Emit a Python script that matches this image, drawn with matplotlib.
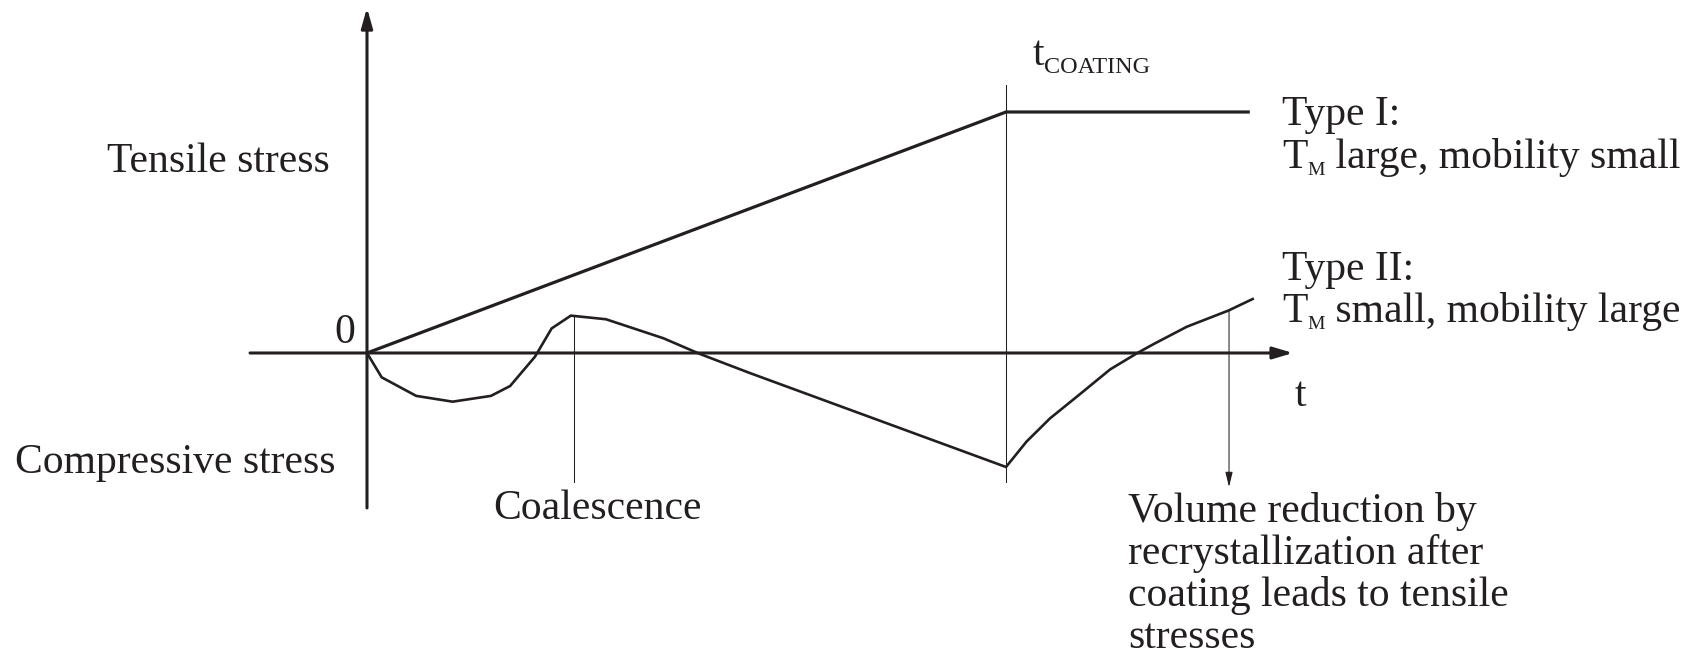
import matplotlib
matplotlib.use("Agg")
import matplotlib.pyplot as plt

# Time axis: t_coating = 10; stress axis: Type I plateau = 10 (arbitrary units)
T_COATING = 10.0
T_COALESCENCE = 3.24

type1_t = [0.0, 10.0, 13.79]
type1_s = [0.0, 10.0, 10.0]

type2_t = [0.0, 0.23, 0.77, 1.34, 1.94, 2.24, 2.63, 2.89, 3.19, 3.74, 4.64,
           5.21, 5.99, 10.0, 10.32, 10.69, 11.11, 11.63, 12.05, 12.31, 12.83,
           13.48, 13.86]
type2_s = [0.0, -1.01, -1.78, -2.02, -1.78, -1.37, -0.15, 1.02, 1.55, 1.40, 0.61,
           -0.04, -0.83, -4.73, -3.68, -2.71, -1.81, -0.68, -0.01, 0.37, 1.09,
           1.76, 2.24]

INK = "#231f20"
SERIF = "Liberation Serif"
FS = 30
SUB_FS = 14

fig = plt.figure(figsize=(17.04, 6.58), dpi=100)
ax = fig.add_axes([0, 0, 1, 1])
ax.set_xlim(-5.743, 20.923)
ax.set_ylim(-12.656, 14.647)
ax.axis("off")

# axes with arrowheads
ax.annotate("", xy=(14.49, 0), xytext=(-1.83, 0),
            arrowprops=dict(arrowstyle="-|>,head_length=12,head_width=3.6",
                            mutation_scale=1, lw=2.2, color=INK,
                            shrinkA=0, shrinkB=0))
ax.annotate("", xy=(0, 14.32), xytext=(0, -6.43),
            arrowprops=dict(arrowstyle="-|>,head_length=12,head_width=3.4",
                            mutation_scale=1, lw=2.2, color=INK,
                            shrinkA=0, shrinkB=0))

# stress curves
ax.plot(type1_t, type1_s, color=INK, lw=2.3, solid_joinstyle="miter")
ax.plot(type2_t, type2_s, color=INK, lw=1.9, solid_joinstyle="miter")

# thin marker lines
ax.plot([T_COATING, T_COATING], [11.12, -5.35], color=INK, lw=0.75)
ax.plot([T_COALESCENCE, T_COALESCENCE], [1.50, -5.35], color=INK, lw=0.75)

# recrystallization arrow
ax.annotate("", xy=(13.49, -5.56), xytext=(13.49, 1.76),
            arrowprops=dict(arrowstyle="-|>,head_length=9,head_width=2.2",
                            mutation_scale=1, lw=0.75, color=INK,
                            shrinkA=0, shrinkB=0))

txt = dict(family=SERIF, color=INK, va="baseline")

ax.text(-0.58, 7.51, "Tensile stress", fontsize=FS, ha="right", **txt)
ax.text(-0.50, -4.98, "Compressive stress", fontsize=FS, ha="right", **txt)
ax.text(-0.19, 0.41, "0", fontsize=FS, ha="right", **txt)
ax.text(1.97, -6.89, "Coalescence", fontsize=FS, ha="left", **txt)
ax.text(14.52, -2.20, "t", fontsize=FS, ha="left", **txt)

volume_lines = ["Volume reduction by", "recrystallization after",
                "coating leads to tensile", "stresses"]
volume_base = [-7.01, -8.76, -10.50, -12.24]
for line, yb in zip(volume_lines, volume_base):
    ax.text(11.91, yb, line, fontsize=FS, ha="left", **txt)

ax.text(14.32, 9.46, "Type I:", fontsize=FS, ha="left", **txt)
ax.text(14.32, 3.03, "Type II:", fontsize=FS, ha="left", **txt)

fig.canvas.draw()
renderer = fig.canvas.get_renderer()


def run_of_text(x, y, pieces):
    """Draw text pieces one after another; pieces are (text, size, dy)."""
    cur_x = x
    for s, size, dy in pieces:
        t = ax.text(cur_x, y + dy, s, fontsize=size, ha="left", **txt)
        bb = t.get_window_extent(renderer)
        cur_x = ax.transData.inverted().transform((bb.x1, bb.y0))[0]


run_of_text(14.32, 7.68, [("T", FS, 0.0), ("M", SUB_FS, -0.29),
                          (" large, mobility small", FS, 0.0)])
run_of_text(14.32, 1.29, [("T", FS, 0.0), ("M", SUB_FS, -0.29),
                          (" small, mobility large", FS, 0.0)])
run_of_text(10.41, 11.95, [("t", FS, 0.0), ("COATING", 17.4, -0.33)])

fig.savefig("out.png", dpi=100, facecolor="white")
